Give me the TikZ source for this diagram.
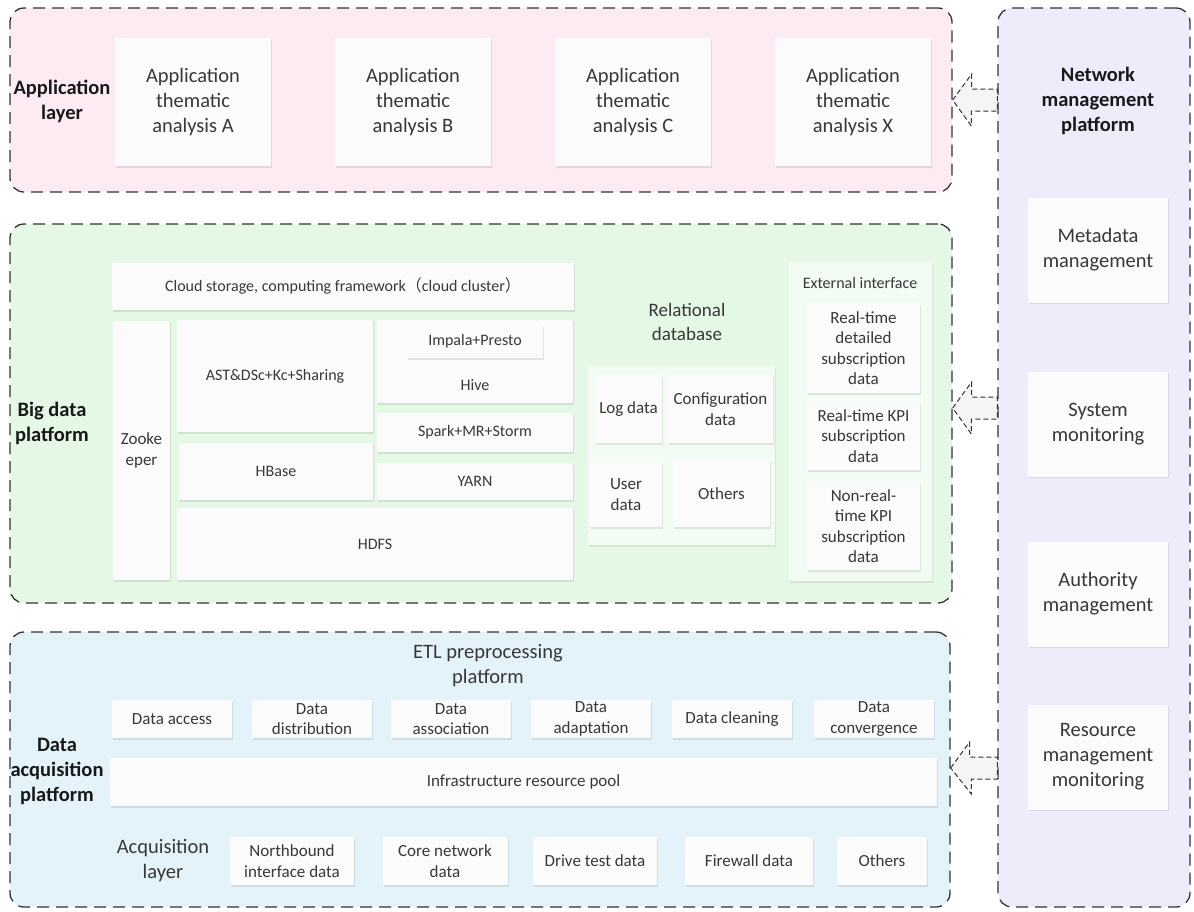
\documentclass[tikz,border=0pt]{standalone}
\usepackage{fontspec}
\setmainfont{Carlito}
\newfontfamily\cjkfont{Noto Sans CJK SC}
\usetikzlibrary{shadows}

\definecolor{pinkbg}{HTML}{FCEBF2}
\definecolor{greenbg}{HTML}{E5F8E5}
\definecolor{bluebg}{HTML}{E3F3F9}
\definecolor{lavbg}{HTML}{EEEBFA}
\definecolor{edge}{HTML}{333333}
\definecolor{txt}{HTML}{383838}
\definecolor{cardfill}{HTML}{FBFBFB}

\newcommand\fbig{\fontsize{20.5}{25}\selectfont}
\newcommand\frel{\fontsize{19}{24}\selectfont}
\newcommand\fmid{\fontsize{17}{20.5}\selectfont}
\newcommand\fsm{\fontsize{16}{20}\selectfont}

\tikzset{
  x=1pt, y=-1pt,
  layer/.style={draw=edge, line width=1.3pt, dash pattern=on 12pt off 7pt,
    rounded corners=14pt, inner sep=0pt},
  sz/.style 2 args={minimum width=#1pt, minimum height=#2pt},
  card/.style={fill=cardfill, draw=none, inner sep=1pt, align=center, text=txt,
    drop shadow={shadow xshift=1.2pt, shadow yshift=-1.8pt, opacity=0.13, fill=black!70}},
  panel/.style={fill=white!55!greenbg, draw=none, inner sep=0pt,
    drop shadow={shadow xshift=1.2pt, shadow yshift=-1.8pt, opacity=0.10, fill=black!70}},
  title/.style={align=center, text=black!90, font=\fbig\bfseries, inner sep=0pt},
  plain/.style={align=center, text=txt, inner sep=0pt},
  barrow/.style={draw=edge, line width=1pt, dash pattern=on 5pt off 3pt,
    fill=black!4, line join=miter},
}

\begin{document}
\begin{tikzpicture}
\useasboundingbox (0,0) rectangle (1194,911);
\fill[white] (0,0) rectangle (1194,911);

% ---------- layer frames ----------
\node[layer, fill=pinkbg,  sz={942}{184}] (app) at (481,100) {};
\node[layer, fill=greenbg, sz={942}{379}] (big) at (481,413.5) {};
\node[layer, fill=bluebg,  sz={940}{275}] (acq) at (480,769.5) {};
\node[layer, fill=lavbg,   sz={192}{899}] (nmp) at (1094,457.5) {};

% ---------- application layer ----------
\node[title] (appT) at (62,101) {Application\\layer};
\node[card, sz={156}{128}, font=\fbig] (anA) at (193,102) {Application\\thematic\\analysis A};
\node[card, sz={156}{128}, font=\fbig] (anB) at (413,102) {Application\\thematic\\analysis B};
\node[card, sz={156}{128}, font=\fbig] (anC) at (633,102) {Application\\thematic\\analysis C};
\node[card, sz={156}{128}, font=\fbig] (anX) at (853,102) {Application\\thematic\\analysis X};

% ---------- big data platform ----------
\node[title] (bigT) at (52,423) {Big data\\platform};
\node[card, sz={462}{47}, font=\fsm] (cloud) at (343,286.5)
  {Cloud storage, computing framework{\cjkfont （}cloud cluster{\cjkfont ）}};
\node[card, sz={57}{259}, font=\fmid] (zoo) at (141.5,450.5) {Zooke\\eper};
\node[card, sz={196}{112}, font=\fsm] (ast) at (275,376) {AST\&DSc+Kc+Sharing};
\node[card, sz={194}{57}, font=\fsm] (hbase) at (276,471.5) {HBase};
\node[card, sz={196}{83}] (hive) at (475,361.5) {};
\node[card, sz={136}{33}, font=\fsm] (impala) at (475,341.5) {Impala+Presto};
\node[plain, font=\fsm] (hiveT) at (475,385) {Hive};
\node[card, sz={196}{39}, font=\fsm] (spark) at (475,432.5) {Spark+MR+Storm};
\node[card, sz={196}{37}, font=\fsm] (yarn) at (475,481.5) {YARN};
\node[card, sz={396}{72}, font=\fsm] (hdfs) at (375,544) {HDFS};

\node[plain, font=\frel] (relT) at (687,322) {Relational\\database};
\node[panel, sz={187}{179}] (rel) at (681.5,455.5) {};
\node[card, sz={67}{68}, font=\fmid] (logd) at (628.5,409) {Log data};
\node[card, sz={105}{68}, font=\fmid] (conf) at (720.5,409) {Configuration\\data};
\node[card, sz={72}{65}, font=\fmid] (user) at (626,494.5) {User\\data};
\node[card, sz={97}{67}, font=\fmid] (oth1) at (721.5,493.5) {Others};

\node[panel, sz={143}{319}] (ext) at (860.5,421.5) {};
\node[plain, font=\fsm] (extT) at (860,283) {External interface};
\node[card, sz={113}{90}, font=\fmid] (rtd) at (863.5,348) {Real-time\\detailed\\subscription\\data};
\node[card, sz={113}{68}, font=\fmid] (rtk) at (863.5,436) {Real-time KPI\\subscription\\data};
\node[card, sz={113}{88}, font=\fmid] (nrt) at (863.5,526) {Non-real-\\time KPI\\subscription\\data};

% ---------- data acquisition platform ----------
\node[title] (acqT) at (57,771) {Data\\acquisition\\platform};
\node[plain, font=\fbig] (etlT) at (488,666) {ETL preprocessing\\platform};
\node[card, sz={120}{38}, font=\fmid] (e1) at (172,719) {Data access};
\node[card, sz={120}{38}, font=\fmid] (e2) at (312,719) {Data\\distribution};
\node[card, sz={120}{38}, font=\fmid] (e3) at (451,719) {Data\\association};
\node[card, sz={120}{38}, font=\fmid] (e4) at (591,719) {Data\\adaptation};
\node[card, sz={120}{38}, font=\fmid] (e5) at (732,719) {Data cleaning};
\node[card, sz={120}{38}, font=\fmid] (e6) at (874,719) {Data\\convergence};
\node[card, sz={827}{48}, font=\fmid] (infra) at (523.5,782) {Infrastructure resource pool};
\node[plain, font=\fbig] (acqL) at (163,861) {Acquisition\\layer};
\node[card, sz={124}{48}, font=\fmid] (s1) at (292,861) {Northbound\\interface data};
\node[card, sz={125}{48}, font=\fmid] (s2) at (445,861) {Core network\\data};
\node[card, sz={124}{48}, font=\fmid] (s3) at (595,861) {Drive test data};
\node[card, sz={128}{48}, font=\fmid] (s4) at (749,861) {Firewall data};
\node[card, sz={90}{48}, font=\fmid] (s5) at (882,861) {Others};

% ---------- network management platform ----------
\node[title] (nmpT) at (1098,101) {Network\\management\\platform};
\node[card, sz={140}{105}, font=\fbig] (meta) at (1098,250) {Metadata\\management};
\node[card, sz={140}{105}, font=\fbig] (sysm) at (1098,424) {System\\monitoring};
\node[card, sz={140}{105}, font=\fbig] (auth) at (1098,594) {Authority\\management};
\node[card, sz={140}{105}, font=\fbig] (resm) at (1098,757) {Resource\\management\\monitoring};

% ---------- block arrows from the management platform ----------
\draw[barrow] (app.east |- 0,100) -- ++(19,-26) -- ++(0,15) -- (nmp.west |- 0,89)
  -- ++(0,22) -- ++(-26,0) -- ++(0,15) -- cycle;
\draw[barrow] (big.east |- 0,408) -- ++(19,-26) -- ++(0,15) -- (nmp.west |- 0,397)
  -- ++(0,22) -- ++(-26,0) -- ++(0,15) -- cycle;
\draw[barrow] (acq.east |- 0,768) -- ++(19,-26) -- ++(0,15) -- (nmp.west |- 0,757)
  -- ++(0,22) -- ++(-26,0) -- ++(0,15) -- cycle;
\end{tikzpicture}
\end{document}
